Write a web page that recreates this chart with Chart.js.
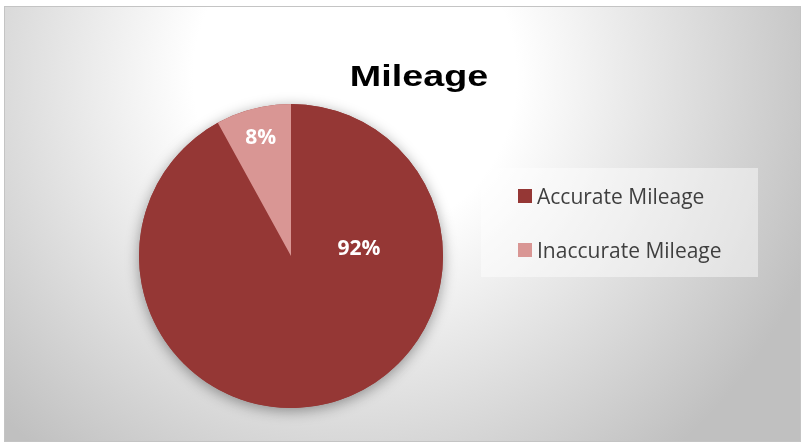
<!DOCTYPE html>
<html>
<head>
<meta charset="utf-8">
<script src="https://cdn.jsdelivr.net/npm/chart.js@4/dist/chart.umd.min.js"></script>
<style>
body{margin:0;background:#fff;}
#frame{position:absolute;left:4px;top:6px;width:795px;height:434px;border:1px solid #c4c4c4;
background:radial-gradient(circle 490px at 350px 70px,#ffffff 0%,#ffffff 33%,#c0c0c0 100%);}
#c{position:absolute;left:0;top:0;}
#legend{position:absolute;left:481px;top:168px;width:277px;height:109px;background:rgba(255,255,255,0.45);}
.item{position:absolute;left:37px;height:14px;white-space:nowrap;}
.sw{position:absolute;left:0;top:0;width:14px;height:14px;}
.txt{position:absolute;left:19px;top:-7px;line-height:27px;font:21px "Open Sans";color:#3f3f3f;}
</style>
</head>
<body>
<div id="frame"></div>
<canvas id="c" width="804" height="443"></canvas>
<div id="legend"></div>
<script>
let chartTitle="Mileage";
let categories=["Accurate Mileage","Inaccurate Mileage"];
let shares=[92,8];
let sliceColors=["#953735","#d99694"];

/* legend */
let legend=document.getElementById("legend");
for(let i=0;i<categories.length;i++){
let it=document.createElement("div");
it.className="item";
it.style.top=(21+i*54)+"px";
it.innerHTML='<span class="sw" style="background:'+sliceColors[i]+'"></span><span class="txt">'+categories[i]+'</span>';
legend.appendChild(it);
}

/* label placement: angle in degrees (null = middle of slice), distance as share of radius */
let labelPlace=[{angle:-6,dist:0.45},{angle:null,dist:0.8}];

let piePlugin={
id:"piePlugin",
beforeDatasetsDraw(chart){
let arc=chart.getDatasetMeta(0).data[0];
let ctx=chart.ctx;
ctx.save();
ctx.shadowColor="rgba(0,0,0,0.38)";
ctx.shadowBlur=14;
ctx.shadowOffsetY=3;
ctx.fillStyle="#953735";
ctx.beginPath();
ctx.arc(arc.x,arc.y,arc.outerRadius,0,Math.PI*2);
ctx.fill();
ctx.restore();
},
afterDatasetsDraw(chart){
let ctx=chart.ctx;
let meta=chart.getDatasetMeta(0);
ctx.save();
ctx.fillStyle="#ffffff";
ctx.font='bold 21px "Open Sans"';
ctx.textAlign="center";
ctx.textBaseline="middle";
meta.data.forEach(function(a,i){
let p=labelPlace[i];
let ang=p.angle===null?(a.startAngle+a.endAngle)/2:p.angle*Math.PI/180;
let r=a.outerRadius*p.dist;
ctx.fillText(shares[i]+"%",a.x+Math.cos(ang)*r,a.y+Math.sin(ang)*r);
});
/* title */
ctx.fillStyle="#000000";
ctx.font='bold 29px "Liberation Sans"';
ctx.textBaseline="alphabetic";
ctx.translate(419,86);
ctx.scale(1.3,1);
ctx.fillText(chartTitle,0,0);
ctx.restore();
}
};

new Chart(document.getElementById("c"),{
type:"pie",
data:{
labels:categories,
datasets:[{
data:shares,
backgroundColor:sliceColors,
borderWidth:0,
hoverOffset:0
}]
},
options:{
responsive:false,
devicePixelRatio:1,
animation:false,
events:[],
layout:{padding:{left:139,top:104,right:361,bottom:35}},
plugins:{
legend:{display:false},
tooltip:{enabled:false},
title:{display:false}
}
},
plugins:[piePlugin]
});
</script>
</body>
</html>
